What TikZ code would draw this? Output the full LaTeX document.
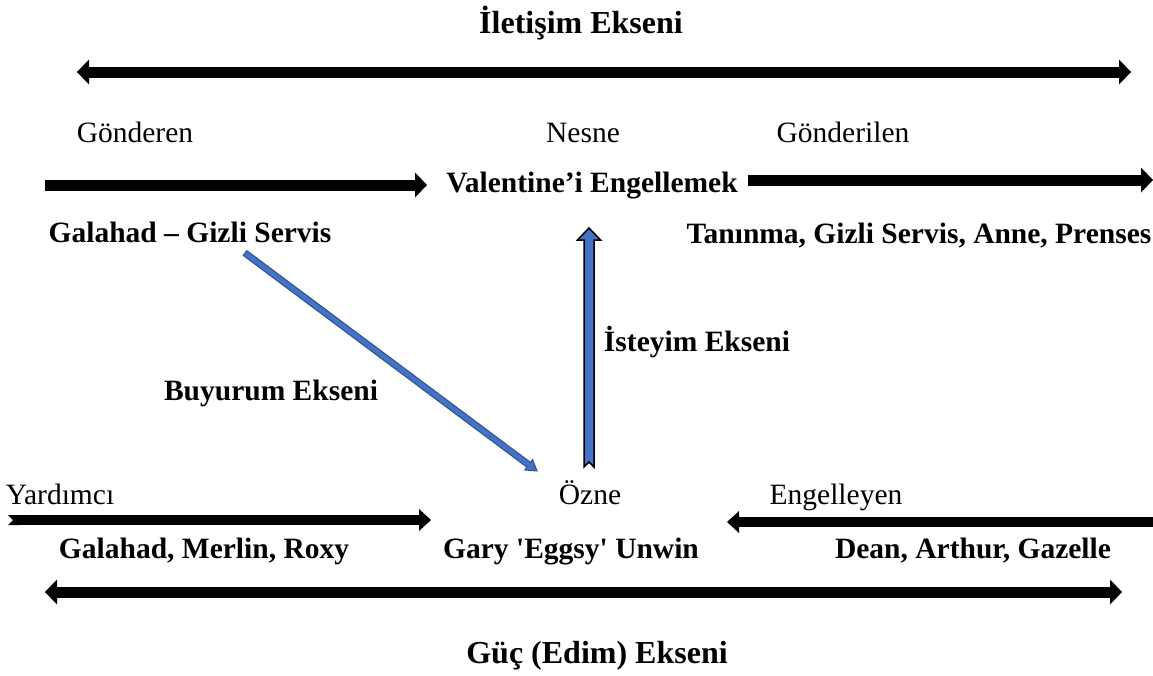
\documentclass[tikz,border=0pt]{standalone}
\usepackage{fontspec}
\newfontfamily\lserif{Liberation Serif}
\usetikzlibrary{arrows.meta,calc}
\definecolor{abl}{HTML}{4472C4}
\definecolor{abd}{HTML}{2F528F}
\begin{document}
\begin{tikzpicture}[x=1pt,y=-1pt,
  txt/.style={font=\lserif\fontsize{29.5}{34}\selectfont, inner sep=0pt, anchor=base},
  btxt/.style={font=\lserif\bfseries\fontsize{29.5}{34}\selectfont, inner sep=0pt, anchor=base},
  ttl/.style={font=\lserif\bfseries\fontsize{32}{38}\selectfont, inner sep=0pt, anchor=base},
  blk/.style={draw=black, line width=11pt},
  thinblk/.style={draw=black, line width=10pt},
  bluearrow/.style={fill=abl, draw=black, line width=1.5pt},
  diagarrow/.style={fill=abl, draw=abd, line width=1pt}
]
\useasboundingbox[fill=white] (0,0) rectangle (1153,675);

% texts
\node[ttl]  (t1)  at (581,33)  {İletişim Ekseni};
\node[txt]  (gon) at (135,142) {Gönderen};
\node[txt]  (nes) at (583,142) {Nesne};
\node[txt]  (gil) at (843,142) {Gönderilen};
\node[btxt] (val) at (592,192) {Valentine’i Engellemek};
\node[btxt] (gal) at (190,242) {Galahad – Gizli Servis};
\node[btxt] (tan) at (919,243) {Tanınma, Gizli Servis, Anne, Prenses};
\node[btxt] (ist) at (697,351) {İsteyim Ekseni};
\node[btxt] (buy) at (271,400) {Buyurum Ekseni};
\node[txt]  (yar) at (60,504)  {Yardımcı};
\node[txt]  (ozn) at (590,504) {Özne};
\node[txt]  (eng) at (836,504) {Engelleyen};
\node[btxt] (gmr) at (204,558) {Galahad, Merlin, Roxy};
\node[btxt] (gry) at (571,558) {Gary 'Eggsy' Unwin};
\node[btxt] (dag) at (973,558) {Dean, Arthur, Gazelle};
\node[ttl]  (guc) at (597,663) {Güç (Edim) Ekseni};

% arrow end points
\coordinate (a1l) at (77,72);    \coordinate (a1r) at (1131,72);
\coordinate (a2s) at (45,185);   \coordinate (a2e) at (427,185);
\coordinate (a3s) at (748,180);  \coordinate (a3e) at (1153,180);
\coordinate (a4s) at (8,520);    \coordinate (a4e) at (431,520);
\coordinate (a5s) at (1153,522); \coordinate (a5e) at (727,522);
\coordinate (a6l) at (45,592);   \coordinate (a6r) at (1122,592);
\coordinate (vtail) at (589,467); \coordinate (vtip) at (589,228);
\coordinate (bs) at (245,253);    \coordinate (be) at (537,471);

% black block arrows
\draw[blk, {Triangle[length=12pt,width=25pt,line width=0pt]}-{Triangle[length=12pt,width=25pt,line width=0pt]}] (a1l) -- (a1r);
\draw[blk, -{Triangle[length=12pt,width=25pt,line width=0pt]}] (a2s) -- (a2e);
\draw[blk, -{Triangle[length=12pt,width=25pt,line width=0pt]}] (a3s) -- (a3e);
\draw[thinblk, {Triangle Cap[reversed]}-{Triangle[length=12pt,width=22pt,line width=0pt]}] (a4s) -- (a4e);
\draw[thinblk, -{Triangle[length=12pt,width=22pt,line width=0pt]}] (a5s) -- (a5e);
\draw[blk, {Triangle[length=12pt,width=25pt,line width=0pt]}-{Triangle[length=12pt,width=25pt,line width=0pt]}] (a6l) -- (a6r);

% vertical blue arrow (Isteyim)
\draw[bluearrow] ($(vtail)+(-5,0)$) -- ($(vtip)+(-5,12)$) -- ($(vtip)+(-11.5,12)$) -- (vtip)
  -- ($(vtip)+(11.5,12)$) -- ($(vtip)+(5,12)$) -- ($(vtail)+(5,0)$) -- ($(vtail)+(0,-5)$) -- cycle;

% diagonal blue arrow (Buyurum)
\begin{scope}[shift={(bs)}, rotate=-36.74]
\draw[diagarrow] (0,-3) -- (354,-3) -- (354,-6.5) -- (364.4,0) -- (354,6.5) -- (354,3) -- (0,3) -- cycle;
\end{scope}
\end{tikzpicture}
\end{document}
